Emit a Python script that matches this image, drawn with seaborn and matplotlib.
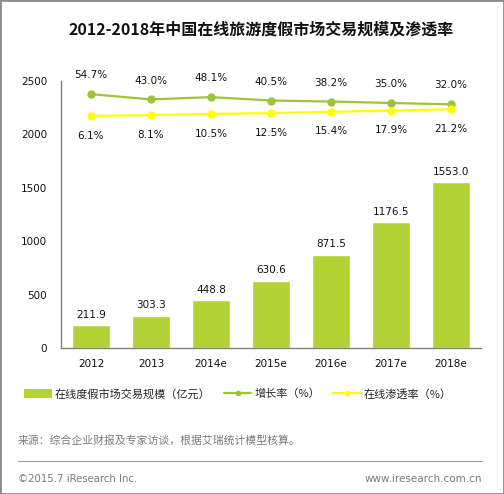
import matplotlib
matplotlib.use("Agg")
import matplotlib.pyplot as plt
import pandas as pd
import seaborn as sns
from matplotlib.lines import Line2D
from matplotlib.patches import Patch, Rectangle

years = ["2012", "2013", "2014e", "2015e", "2016e", "2017e", "2018e"]
market_size = [211.9, 303.3, 448.8, 630.6, 871.5, 1176.5, 1553.0]
growth_rate = [54.7, 43.0, 48.1, 40.5, 38.2, 35.0, 32.0]
penetration = [6.1, 8.1, 10.5, 12.5, 15.4, 17.9, 21.2]

BAR = "#B2D235"
GROWTH = "#9DC43C"
PEN = "#FFFF00"
GREY = "#808080"

sns.set_theme(style="white")
plt.rcParams["font.family"] = ["Noto Sans CJK SC", "DejaVu Sans"]

df = pd.DataFrame({"year": years, "size": market_size,
                   "growth": growth_rate, "pen": penetration})

W, H = 504, 494
fig = plt.figure(figsize=(W / 100, H / 100), dpi=100)
fig.patches.append(Rectangle((0, 0), 1, 1, transform=fig.transFigure, fill=False,
                             edgecolor="#8c8c8c", linewidth=2, zorder=10))

ax = fig.add_axes([61 / W, (H - 348) / H, 420 / W, 267 / H])
sns.barplot(data=df, x="year", y="size", color=BAR, width=0.63, saturation=1, ax=ax)
ax.set_ylim(0, 2500)
ax.set_xlim(-0.5, 6.5)
ax.set_yticks(range(0, 2501, 500))
ax.set_xlabel(""); ax.set_ylabel("")
ax.tick_params(axis="both", length=0, labelsize=7.5, colors="#111111")
ax.tick_params(axis="y", pad=10)
ax.tick_params(axis="x", pad=8)
for lab in ax.get_xticklabels() + ax.get_yticklabels():
    lab.set_family("DejaVu Sans")
for side in ("top", "right"):
    ax.spines[side].set_visible(False)
for side in ("left", "bottom"):
    ax.spines[side].set_color(GREY)
    ax.spines[side].set_linewidth(1)
for i, v in enumerate(market_size):
    ax.annotate(f"{v:.1f}", (i, v), xytext=(0, 4), textcoords="offset points",
                ha="center", va="bottom", fontsize=7.5, family="DejaVu Sans", color="#111111")

ax2 = ax.twinx()
ax2.set_ylim(-511, 84)
sns.lineplot(data=df, x="year", y="growth", color=GROWTH, marker="o", markersize=6,
             markeredgewidth=0, linewidth=1.6, ax=ax2)
sns.lineplot(data=df, x="year", y="pen", color=PEN, marker="o", markersize=6,
             markeredgewidth=0, linewidth=1.6, ax=ax2)
ax2.set_xlim(-0.5, 6.5)
ax2.axis("off")
for i, v in enumerate(growth_rate):
    ax2.annotate(f"{v:.1f}%", (i, v), xytext=(0, 10), textcoords="offset points",
                 ha="center", va="bottom", fontsize=7.5, family="DejaVu Sans", color="#111111")
for i, v in enumerate(penetration):
    ax2.annotate(f"{v:.1f}%", (i, v), xytext=(0, -10.5), textcoords="offset points",
                 ha="center", va="top", fontsize=7.5, family="DejaVu Sans", color="#111111")

handles = [Patch(facecolor=BAR, edgecolor="none"),
           Line2D([], [], color=GROWTH, marker="o", markersize=3, linewidth=1.6),
           Line2D([], [], color=PEN, marker="o", markersize=3, linewidth=1.6)]
labels = ["在线度假市场交易规模（亿元）", "增长率（%）", "在线渗透率（%）"]
fig.legend(handles, labels, loc="center left", bbox_to_anchor=(14 / W, 1 - 394 / H),
           ncol=3, frameon=False, fontsize=8, handlelength=2.5, handleheight=0.9,
           handletextpad=0.25, columnspacing=1.2)

fig.text(261 / W, 1 - 30 / H, "2012-2018年中国在线旅游度假市场交易规模及渗透率",
         ha="center", va="center", fontsize=11.5, fontweight="bold", color="#111111")
fig.text(18 / W, 1 - 441 / H, "来源：综合企业财报及专家访谈，根据艾瑞统计模型核算。",
         ha="left", va="center", fontsize=7.8, color="#7a7a7a")
fig.add_artist(Line2D([18 / W, 482 / W], [1 - 461 / H, 1 - 461 / H],
                      transform=fig.transFigure, color="#9a9a9a", linewidth=0.8))
fig.text(18 / W, 1 - 479 / H, "©2015.7 iResearch Inc.", ha="left", va="center",
         fontsize=7.3, color="#7a7a7a", family="DejaVu Sans")
fig.text(482 / W, 1 - 479 / H, "www.iresearch.com.cn", ha="right", va="center",
         fontsize=7.5, color="#7a7a7a", family="DejaVu Sans")

fig.savefig("out.png", dpi=100)
